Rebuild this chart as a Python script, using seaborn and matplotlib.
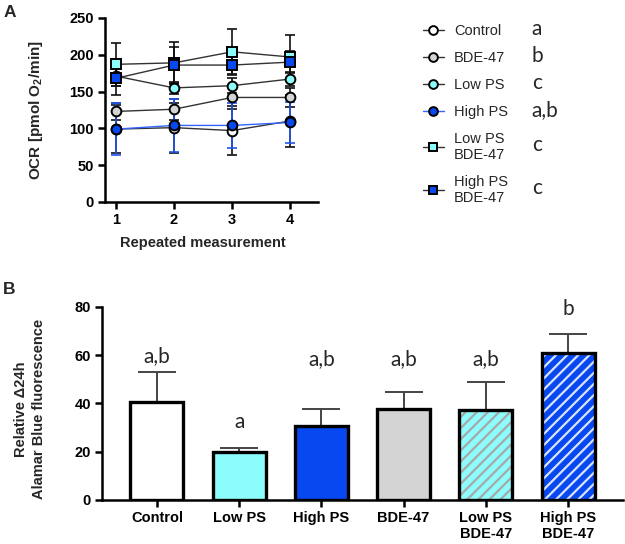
import numpy as np
import pandas as pd
import matplotlib
matplotlib.use('Agg')
import matplotlib.pyplot as plt
import seaborn as sns
from matplotlib.patches import Rectangle

# Panel A: OCR over repeated measurements (mean and SD)
measurements = [1, 2, 3, 4]
groups = ['Control', 'BDE-47', 'Low PS', 'High PS', 'Low PS\nBDE-47', 'High PS\nBDE-47']
group_letters = ['a', 'b', 'c', 'a,b', 'c', 'c']

ocr_control = [99, 101, 97, 110]
ocr_bde = [123, 126, 142, 142]
ocr_low = [171, 155, 158, 167]
ocr_high = [99, 104, 104, 108]
ocr_low_bde = [187, 189, 204, 197]
ocr_high_bde = [168, 186, 186, 190]

sd_control = [33, 34, 33, 35]
sd_bde = [12, 14, 16, 13]
sd_low = [14, 8, 10, 10]
sd_high = [35, 36, 30, 28]
sd_low_bde = [29, 29, 31, 30]
sd_high_bde = [22, 25, 12, 15]

# Panel B: Alamar Blue fluorescence (mean and SEM)
bar_groups = ['Control', 'Low PS', 'High PS', 'BDE-47', 'Low PS\nBDE-47', 'High PS\nBDE-47']
alamar = [40.5, 19.8, 30.5, 37.7, 37.4, 60.8]
alamar_err = [12.5, 1.7, 7.2, 6.8, 11.5, 7.8]
bar_letters = ['a,b', 'a', 'a,b', 'a,b', 'a,b', 'b']
letter_y = [57, 30, 56, 56, 56, 76.5]

CYAN = '#8CFCFC'
BLUE = '#0848F0'
GREY = '#D4D4D4'

sns.set_theme(style='ticks')
plt.rcParams['font.family'] = ['Liberation Sans', 'DejaVu Sans']
plt.rcParams['mathtext.fontset'] = 'custom'
plt.rcParams['mathtext.rm'] = 'Liberation Sans'
plt.rcParams['mathtext.bf'] = 'Liberation Sans:bold'
plt.rcParams['hatch.linewidth'] = 1.6

fig = plt.figure(figsize=(6.25, 5.44), dpi=100)
axA = fig.add_axes([0.168, 0.6287, 0.341, 0.3383])
axB = fig.add_axes([0.163, 0.0809, 0.834, 0.3553])

# ---- Panel A ----
ocr = [ocr_control, ocr_bde, ocr_low, ocr_high, ocr_low_bde, ocr_high_bde]
sds = [sd_control, sd_bde, sd_low, sd_high, sd_low_bde, sd_high_bde]
face = ['white', GREY, CYAN, BLUE, CYAN, BLUE]
mark = ['o', 'o', 'o', 'o', 's', 's']
line_col = ['#333333', '#333333', '#333333', '#3366FF', '#333333', '#333333']
err_col = ['#111111', '#111111', '#111111', '#2255EE', '#111111', '#111111']

handles = []
for i, g in enumerate(groups):
    df = pd.DataFrame({'x': measurements, 'y': ocr[i]})
    axA.errorbar(measurements, ocr[i], yerr=sds[i], fmt='none', ecolor=err_col[i],
                 elinewidth=1.2, capsize=3.5, capthick=1.2, zorder=2)
    sns.lineplot(data=df, x='x', y='y', ax=axA, color=line_col[i], linewidth=1.0,
                 marker=mark[i], markersize=7, markerfacecolor=face[i],
                 markeredgecolor='black', markeredgewidth=1.4, zorder=3 + i, label=g)
    handles.append(axA.lines[-1])
axA.get_legend().remove()

axA.set_xlim(0.81, 4.483)
axA.set_ylim(0, 250)
axA.set_xticks(measurements)
axA.set_yticks([0, 50, 100, 150, 200, 250])
axA.set_xlabel('Repeated measurement', fontsize=10.5, fontweight='bold')
axA.set_ylabel(r'OCR [pmol O$_\mathbf{2}$/min]', fontsize=11, fontweight='bold')
axA.xaxis.set_label_coords(0.46, -0.185)
axA.yaxis.set_label_coords(-0.28, 0.5)

leg = fig.legend(handles=handles, labels=groups, loc='upper left',
                 bbox_to_anchor=(0.677, 0.955), frameon=False, fontsize=10.5,
                 handlelength=1.4, handletextpad=0.7, labelspacing=0.88,
                 borderpad=0, borderaxespad=0, markerscale=0.9)

# ---- Panel B ----
sns.barplot(x=bar_groups, y=alamar, hue=bar_groups,
            palette=['white', CYAN, BLUE, GREY, CYAN, BLUE], legend=False, saturation=1,
            width=0.645, edgecolor='black', linewidth=2.4, errorbar=None, ax=axB)
stripe = [None, None, None, None, '#A8A8A8', '#D8E4FF']
for p, s in zip(axB.patches, stripe):
    p.set_zorder(3)
    if s is not None:
        p.set_hatch('///')
        p.set_edgecolor(s)
        p.set_linewidth(0)
        axB.add_patch(Rectangle(p.get_xy(), p.get_width(), p.get_height(),
                                fill=False, edgecolor='black', linewidth=2.4, zorder=4))
axB.errorbar(range(len(bar_groups)), alamar, yerr=alamar_err, fmt='none',
             ecolor='#444444', elinewidth=1.4, capsize=13.5, capthick=1.4, zorder=2)
for i, (t, y) in enumerate(zip(bar_letters, letter_y)):
    axB.text(i, y, t, ha='center', va='baseline', fontsize=15, family='Lato')

axB.set_xlim(-0.669, 5.669)
axB.set_ylim(0, 80)
axB.set_yticks([0, 20, 40, 60, 80])
axB.set_ylabel('Relative \u039424h\nAlamar Blue fluorescence', fontsize=10.5,
               fontweight='bold', linespacing=1.3)
axB.yaxis.set_label_coords(-0.108, 0.47)

for ax in (axA, axB):
    sns.despine(ax=ax)
    for sp in ('left', 'bottom'):
        ax.spines[sp].set_linewidth(1.8)
        ax.spines[sp].set_color('black')
    ax.tick_params(width=1.8, length=5, color='black', labelsize=10.5, pad=3)
    for lab in ax.get_xticklabels() + ax.get_yticklabels():
        lab.set_fontweight('bold')
        lab.set_color('black')

fig.text(0.005, 0.991, 'A', fontsize=12.5, fontweight='bold', va='top')
fig.text(0.005, 0.481, 'B', fontsize=12.5, fontweight='bold', va='top')

# significance letters next to the legend rows
fig.canvas.draw()
inv = fig.transFigure.inverted()
for txt, letter in zip(leg.get_texts(), group_letters):
    bb = txt.get_window_extent()
    yc = inv.transform((0, (bb.y0 + bb.y1) / 2))[1]
    fig.text(0.851, yc + 0.004, letter, fontsize=15, family='Lato', va='center', ha='left')

fig.savefig('out.png', dpi=100)
